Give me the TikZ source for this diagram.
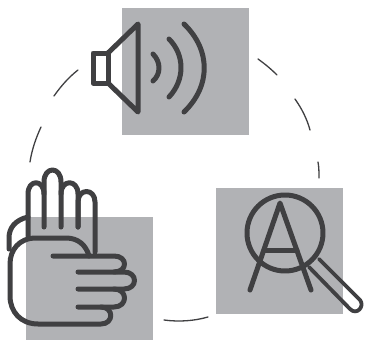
\documentclass[tikz,border=0pt]{standalone}
\definecolor{panel}{HTML}{B1B2B5}
\definecolor{ink}{HTML}{404042}
\tikzset{
  panelbox/.style={fill=panel,draw=none},
  icon/.style={draw=ink,line width=5pt,line cap=round,line join=round},
  thinicon/.style={icon,line width=3.8pt},
  ring/.style={draw=ink,line width=1.3pt,line cap=round}
}
\begin{document}
\begin{tikzpicture}[x=1pt,y=-1pt]
\useasboundingbox (0,0) rectangle (365,340);
\fill[white] (0,0) rectangle (365,340);
% panels
\fill[panelbox] (122,8) rectangle (249,135);
\fill[panelbox] (216,188) rectangle (343,314);
\fill[panelbox] (26,217) rectangle (153,340);
% ring
\draw[ring] (30,162) .. controls (32,149) and (36,138) .. (41,127);
\draw[ring] (54,96) .. controls (61,86) and (69,77) .. (78,70);
\draw[ring] (258,59) .. controls (265,64) and (271,69) .. (277,75);
\draw[ring] (295,99) .. controls (302,109) and (307,119) .. (310,130);
\draw[ring] (318,162) .. controls (319,167) and (319,173) .. (319,178);
\draw[ring] (164,320) .. controls (179,322) and (194,321) .. (208,317);
% speaker
\draw[icon] (108,53) -- (93,53) -- (93,83) -- (108,83) -- cycle;
\draw[icon] (108,53) -- (138,24) -- (138,112) -- (108,83);
\draw[icon] (153,54) .. controls (161,62) and (161,74) .. (153,81);
\draw[icon] (169,39) .. controls (185,55) and (185,80) .. (169,97);
\draw[icon] (184,24) .. controls (211,50) and (211,86) .. (184,112);
% magnifier
\draw[icon] (285,233) circle (38);
\draw[icon] (250,290) -- (280,203) -- (311,290);
\draw[icon] (265,250) -- (297,250);
\draw[thinicon] (319,259) -- (360,300) .. controls (365,306) and (357,316) .. (350,309) -- (309,267);
% hand
\draw[icon] (95,252) -- (95,202) .. controls (95,188) and (78,188) .. (78,202) -- (78,227);
\draw[icon] (78,227) -- (78,194) .. controls (78,179) and (61,179) .. (61,194);
\draw[icon] (61,227) -- (61,182) .. controls (61,166) and (44,166) .. (44,182) -- (44,227);
\draw[icon] (44,194) .. controls (44,179) and (28,179) .. (28,194) -- (28,236);
\draw[icon] (28,217) .. controls (15,220) and (9,228) .. (9,238) -- (9,249);
\draw[icon] (89,256) .. controls (86,245) and (78,238) .. (66,238) -- (36,238)
  .. controls (19,238) and (10,250) .. (10,264) -- (10,296)
  .. controls (10,312) and (21,324) .. (38,324) -- (101,324)
  .. controls (114,324) and (114,307) .. (101,307) -- (78,307);
\draw[icon] (53,256) -- (114,256) .. controls (128,256) and (128,272) .. (114,272);
\draw[icon] (78,272) -- (124,272) .. controls (138,272) and (138,289) .. (124,289) -- (78,289);
\draw[icon] (114,289) .. controls (128,289) and (128,307) .. (114,307) -- (101,307);
\end{tikzpicture}
\end{document}
